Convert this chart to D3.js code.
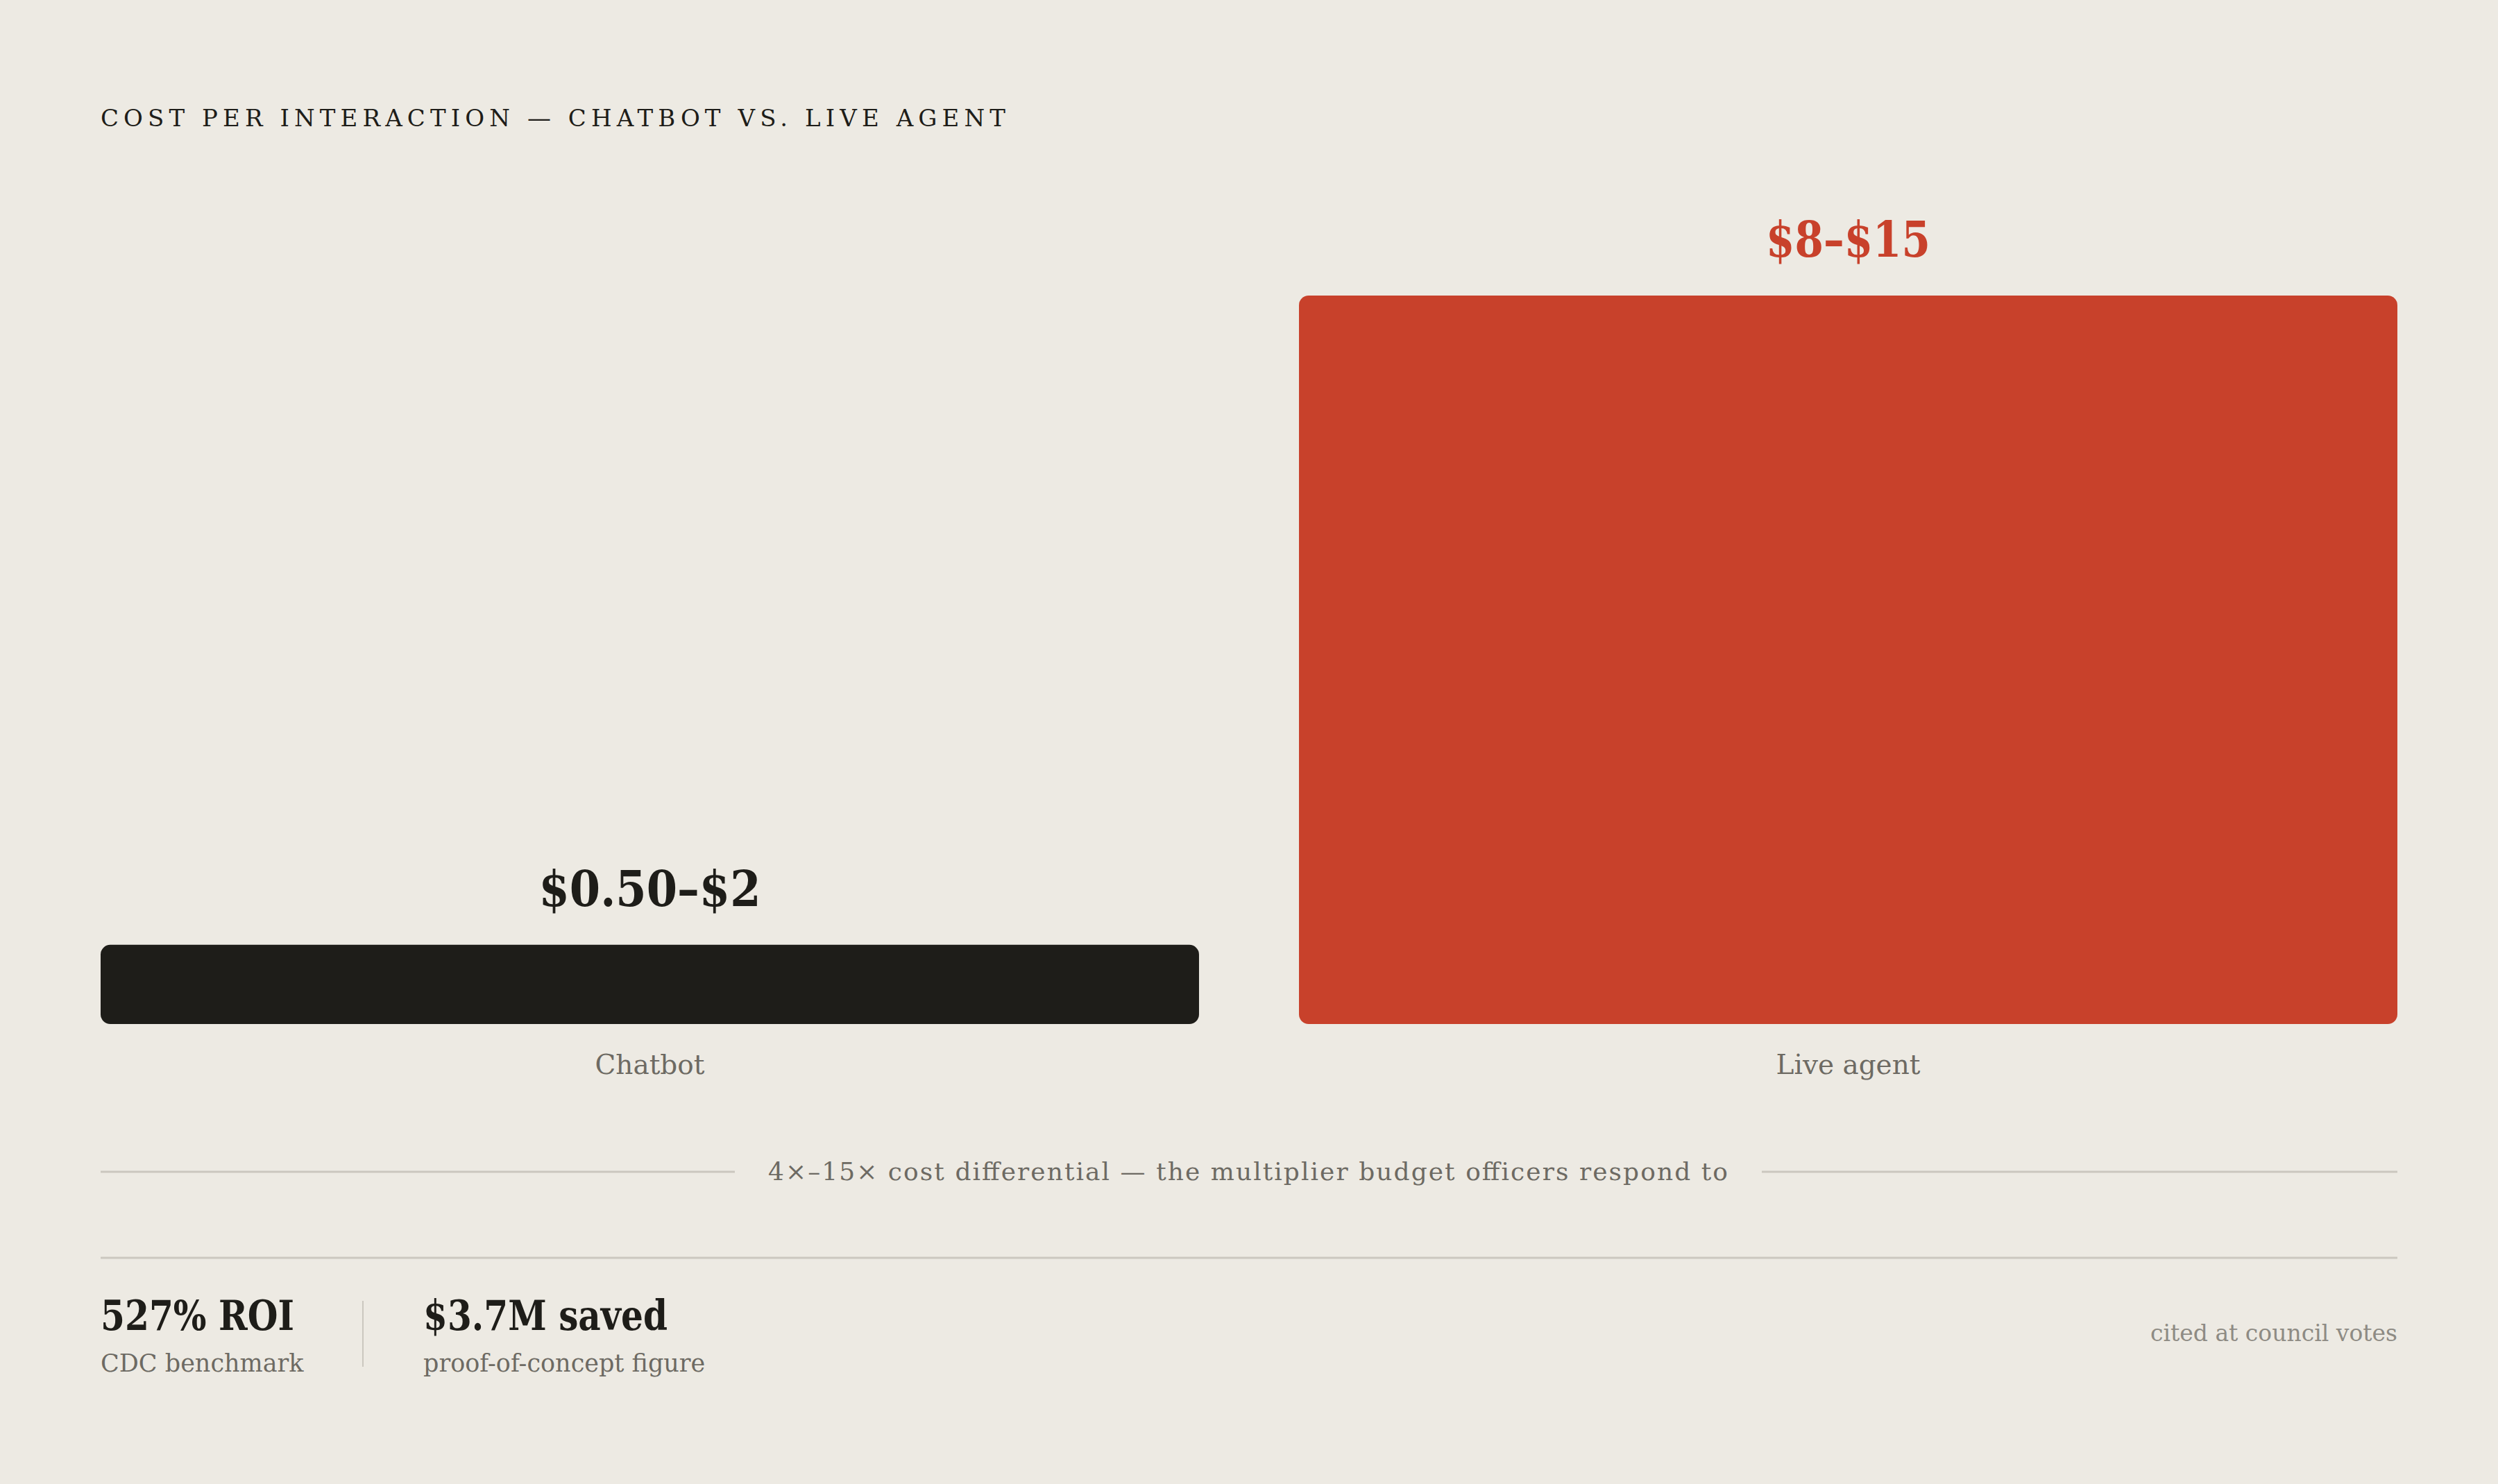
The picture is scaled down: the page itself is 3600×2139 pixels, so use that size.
<!DOCTYPE html>
<html>
<head>
<meta charset="utf-8">
<script src="https://cdn.jsdelivr.net/npm/d3@7"></script>
<style>
  html, body { margin: 0; padding: 0; background: #edeae3; }
  svg { display: block; }
  text { font-family: "DejaVu Serif", serif; }
</style>
</head>
<body>
<svg id="chart"></svg>
<script>
    'use strict';

    // chart values
    var categories = ['Chatbot', 'Live agent'],
        lowCost = [0.5, 8],
        highCost = [2, 15],
        valueLabels = ['$0.50\u2013$2', '$8\u2013$15'],
        statValues = ['527% ROI', '$3.7M saved'],
        statNotes = ['CDC benchmark', 'proof-of-concept figure'];

    var title = 'COST PER INTERACTION \u2014 CHATBOT VS. LIVE AGENT',
        differential = '4\u00d7\u201315\u00d7 cost differential \u2014 the multiplier budget officers respond to',
        sourceNote = 'cited at council votes';

    var W = 3600, H = 2139,
        left = 145, right = 3455,
        barBottom = 1476, barTop = 426,
        ink = '#1e1d19', red = '#c8412b', grey = '#6d6a63', pale = '#8e8b84', rule = '#cbc7bf';

    // DejaVu runs wider than the original face, so the bold figures get squeezed to fit
    var valueWidths = [320, 237],
        statWidths = [279, 352],
        statX = [left, 610];

    var mids = categories.map(function (c, i) { return (lowCost[i] + highCost[i]) / 2; });

    var svg = d3.select('#chart')
        .attr('width', W)
        .attr('height', H)
        .attr('viewBox', '0 0 ' + W + ' ' + H);

    svg.append('rect')
        .attr('width', W).attr('height', H)
        .attr('fill', '#edeae3');

    // title
    svg.append('text')
        .attr('x', left).attr('y', 182)
        .attr('textLength', 1304)
        .attr('lengthAdjust', 'spacing')
        .style('font-size', '34px')
        .style('fill', ink)
        .text(title);

    var x = d3.scaleBand()
        .domain(categories)
        .range([left, right])
        .paddingInner(0.0834);

    var y = d3.scaleLinear()
        .domain([0, d3.max(mids)])
        .range([barBottom, barTop]);

    var bars = svg.append('g').attr('class', 'bars')
        .selectAll('g')
        .data(categories)
        .join('g');

    bars.append('rect')
        .attr('x', function (d) { return x(d); })
        .attr('y', function (d, i) { return y(mids[i]); })
        .attr('width', x.bandwidth())
        .attr('height', function (d, i) { return y(0) - y(mids[i]); })
        .attr('rx', 14).attr('ry', 14)
        .attr('fill', function (d, i) { return i === 1 ? red : ink; });

    bars.append('text')
        .attr('x', function (d) { return x(d) + x.bandwidth() / 2; })
        .attr('y', function (d, i) { return y(mids[i]) - 56; })
        .attr('text-anchor', 'middle')
        .attr('textLength', function (d, i) { return valueWidths[i]; })
        .attr('lengthAdjust', 'spacingAndGlyphs')
        .style('font-size', '71px')
        .style('font-weight', 'bold')
        .style('fill', function (d, i) { return i === 1 ? red : ink; })
        .text(function (d, i) { return valueLabels[i]; });

    bars.append('text')
        .attr('x', function (d) { return x(d) + x.bandwidth() / 2; })
        .attr('y', 1548)
        .attr('text-anchor', 'middle')
        .style('font-size', '39px')
        .style('fill', grey)
        .text(function (d) { return d; });

    // differential caption between two hairlines
    svg.append('line')
        .attr('x1', left).attr('x2', 1059)
        .attr('y1', 1689).attr('y2', 1689)
        .attr('stroke', rule).attr('stroke-width', 3);
    svg.append('line')
        .attr('x1', 2539).attr('x2', right)
        .attr('y1', 1689).attr('y2', 1689)
        .attr('stroke', rule).attr('stroke-width', 3);
    svg.append('text')
        .attr('x', 1107).attr('y', 1701)
        .attr('textLength', 1383)
        .attr('lengthAdjust', 'spacing')
        .style('font-size', '36px')
        .style('fill', grey)
        .text(differential);

    // footer
    svg.append('line')
        .attr('x1', left).attr('x2', right)
        .attr('y1', 1813).attr('y2', 1813)
        .attr('stroke', rule).attr('stroke-width', 3);

    var stat = svg.append('g').selectAll('g')
        .data(statValues)
        .join('g')
        .attr('transform', function (d, i) { return 'translate(' + statX[i] + ',0)'; });

    stat.append('text')
        .attr('y', 1917)
        .attr('textLength', function (d, i) { return statWidths[i]; })
        .attr('lengthAdjust', 'spacingAndGlyphs')
        .style('font-size', '59px')
        .style('font-weight', 'bold')
        .style('fill', ink)
        .text(function (d) { return d; });

    stat.append('text')
        .attr('y', 1977)
        .style('font-size', '35px')
        .style('fill', grey)
        .text(function (d, i) { return statNotes[i]; });

    svg.append('line')
        .attr('x1', 523).attr('x2', 523)
        .attr('y1', 1875).attr('y2', 1970)
        .attr('stroke', rule).attr('stroke-width', 2);

    svg.append('text')
        .attr('x', right).attr('y', 1933)
        .attr('text-anchor', 'end')
        .style('font-size', '33px')
        .style('fill', pale)
        .text(sourceNote);
</script>
</body>
</html>
